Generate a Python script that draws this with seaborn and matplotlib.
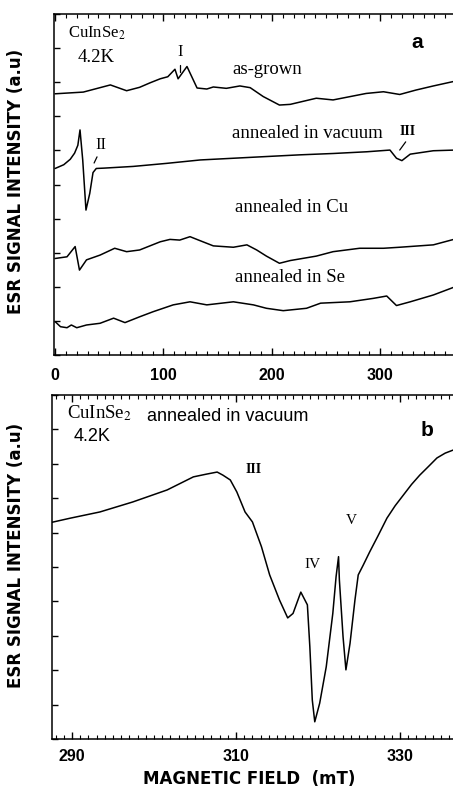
import numpy as np
import pandas as pd
import matplotlib
matplotlib.use("Agg")
import matplotlib.pyplot as plt
import seaborn as sns
from matplotlib.ticker import MultipleLocator

# ---------------- data (panel a) ----------------
asgrown_x = [0, 26, 51, 66, 78, 87.5, 97, 104, 110.6, 113.5, 121.7, 131, 140, 146, 158, 170.5, 180, 192, 207, 217, 241, 256.5, 287, 303, 318, 333, 349, 369]
asgrown_y = [7.66, 7.71, 7.92, 7.75, 7.85, 7.98, 8.10, 8.16, 8.38, 8.10, 8.46, 7.83, 7.80, 7.86, 7.82, 7.89, 7.84, 7.58, 7.33, 7.35, 7.53, 7.48, 7.67, 7.72, 7.64, 7.77, 7.89, 8.03]

vac_x = [0, 8, 14, 18, 21, 23, 25.5, 28.5, 32, 35, 38, 45, 72, 103, 134, 164.5, 195, 226, 257, 287.7, 309, 315, 320, 327.7, 349, 369]
vac_y = [5.47, 5.58, 5.74, 5.92, 6.15, 6.60, 5.72, 4.25, 4.74, 5.35, 5.47, 5.48, 5.53, 5.62, 5.72, 5.77, 5.82, 5.87, 5.91, 5.96, 6.01, 5.77, 5.70, 5.89, 5.99, 6.01]

cu_x = [0, 11, 18.5, 22.5, 29, 41.5, 55, 66, 78, 97, 106, 115, 124.5, 134, 146, 164.5, 177, 186, 195, 207, 217, 241, 256.5, 281, 303, 318, 349, 369]
cu_y = [2.83, 2.88, 3.18, 2.49, 2.79, 2.93, 3.13, 3.03, 3.08, 3.32, 3.39, 3.37, 3.47, 3.35, 3.20, 3.16, 3.23, 3.08, 2.90, 2.69, 2.77, 2.90, 3.03, 3.13, 3.13, 3.16, 3.23, 3.40]

se_x = [0, 5, 11, 15, 20, 29, 41.5, 54, 64.5, 78, 90.5, 109, 124.5, 140, 164.5, 183, 195, 210.5, 232, 245, 272, 293.5, 306, 315, 327.7, 349, 369]
se_y = [0.98, 0.83, 0.80, 0.88, 0.80, 0.88, 0.93, 1.08, 0.95, 1.12, 1.27, 1.47, 1.56, 1.47, 1.56, 1.47, 1.37, 1.30, 1.37, 1.52, 1.56, 1.66, 1.73, 1.45, 1.56, 1.76, 2.00]

# ---------------- data (panel b) ----------------
b_x = [287.56, 289.8, 293.4, 297.4, 301.6, 304.8, 306.4, 307.7, 308.4, 309.3, 310.1, 311.1, 312.0, 313.1, 314.1, 315.3, 316.3, 316.95, 317.9, 318.7, 319.0, 319.3, 319.6, 320.2, 321.0, 321.8, 322.2, 322.5, 322.6, 323.05, 323.4, 323.9, 324.5, 324.9, 325.5, 326.3, 327.3, 328.4, 329.4, 330.4, 331.4, 332.4, 333.5, 334.5, 335.5, 336.7]
b_y = [6.30, 6.42, 6.60, 6.89, 7.24, 7.62, 7.70, 7.76, 7.67, 7.53, 7.18, 6.60, 6.31, 5.59, 4.77, 4.04, 3.52, 3.65, 4.27, 3.90, 2.68, 1.13, 0.50, 1.04, 2.10, 3.65, 4.72, 5.30, 4.63, 2.97, 2.01, 2.78, 4.04, 4.77, 5.05, 5.44, 5.90, 6.42, 6.78, 7.09, 7.40, 7.67, 7.93, 8.17, 8.31, 8.42]

a_xticks = [0, 100, 200, 300]
b_xticks = [290, 310, 330]
ylabel = "ESR SIGNAL INTENSITY (a.u)"
xlabel = "MAGNETIC FIELD  (mT)"

sns.set_style("ticks")
plt.rcParams['font.family'] = ['DejaVu Sans']
plt.rcParams['mathtext.fontset'] = 'stix'
plt.rcParams['text.color'] = 'black'
plt.rcParams['axes.labelcolor'] = 'black'
plt.rcParams['xtick.color'] = 'black'
plt.rcParams['ytick.color'] = 'black'

W, H = 453, 789
fig = plt.figure(figsize=(W / 100, H / 100), dpi=100)

def px_axes(l, t, r, b):
    return fig.add_axes([l / W, 1 - b / H, (r - l) / W, (b - t) / H])

axa = px_axes(54, 14, 455, 355)
axb = px_axes(52, 395, 455, 739)

lw = 1.1
for xs, ys in [(asgrown_x, asgrown_y), (vac_x, vac_y), (cu_x, cu_y), (se_x, se_y)]:
    df = pd.DataFrame({"field": xs, "signal": ys})
    sns.lineplot(data=df, x="field", y="signal", ax=axa, color="black", lw=lw, estimator=None, sort=False)

dfb = pd.DataFrame({"field": b_x, "signal": b_y})
sns.lineplot(data=dfb, x="field", y="signal", ax=axb, color="black", lw=lw, estimator=None, sort=False)

axa.set_xlim(-1, 369)
axa.set_ylim(0, 10)
axb.set_xlim(287.56, 336.7)
axb.set_ylim(0, 10)

serif = ['Liberation Serif', 'DejaVu Serif']
sans = ['Liberation Sans', 'DejaVu Sans']

for ax, xt, minor, pad in [(axa, a_xticks, 10, 9.5), (axb, b_xticks, 1, 7)]:
    for s in ax.spines.values():
        s.set_linewidth(1.1)
        s.set_color("black")
    ax.spines['right'].set_visible(False)
    ax.set_xticks(xt)
    ax.xaxis.set_minor_locator(MultipleLocator(minor))
    ax.yaxis.set_major_locator(MultipleLocator(1))
    ax.tick_params(axis='x', which='both', direction='in', top=True, bottom=True)
    ax.tick_params(axis='x', which='major', length=5, width=1, pad=pad)
    ax.tick_params(axis='x', which='minor', length=3, width=0.8)
    ax.tick_params(axis='y', which='major', direction='in', length=4, width=1, left=True, labelleft=False)
    for lab in ax.get_xticklabels():
        lab.set_fontweight('bold')
        lab.set_fontsize(11.5)
        lab.set_family(sans)
    ax.set_xlabel("")
    ax.set_ylabel("")

axa.set_ylabel(ylabel, fontsize=12, fontweight='bold')
axa.yaxis.set_label_coords(-0.072, 0.51)
axb.set_ylabel(ylabel, fontsize=12, fontweight='bold')
axb.yaxis.set_label_coords(-0.067, 0.535)
axb.set_xlabel(xlabel, fontsize=12, fontweight='bold')
axb.xaxis.set_label_coords(0.489, -0.090)

# panel a annotations
axa.text(12, 9.44, "CuInSe$_2$", family=serif, fontsize=12, ha='left', va='center')
axa.text(21, 8.71, "4.2K", family=serif, fontsize=13.5, ha='left', va='center')
axa.text(115, 8.90, "I", family=serif, fontsize=12, ha='center', va='center')
axa.plot([115, 115], [8.50, 8.30], color='black', lw=0.9)
axa.text(164, 8.36, "as-grown", family=serif, fontsize=13.5, ha='left', va='center')
axa.text(163, 6.51, "annealed in vacuum", family=serif, fontsize=13.5, ha='left', va='center')
axa.text(42, 6.15, "II", family=serif, fontsize=12, ha='center', va='center')
axa.plot([36, 38.7], [5.63, 5.81], color='black', lw=0.9)
axa.text(325, 6.54, "III", family=serif, fontsize=10, ha='center', va='center', weight='bold')
axa.plot([318, 323.5], [6.01, 6.25], color='black', lw=0.9)
axa.text(166, 4.34, "annealed in Cu", family=serif, fontsize=13.5, ha='left', va='center')
axa.text(166, 2.26, "annealed in Se", family=serif, fontsize=13.5, ha='left', va='center')
axa.text(334, 9.15, "a", family=sans, fontsize=15, weight='bold', ha='center', va='center')

# panel b annotations
axb.text(289.4, 9.48, "CuInSe$_2$", family=serif, fontsize=13.5, ha='left', va='center')
axb.text(299.1, 9.38, "annealed in vacuum", family=sans, fontsize=13, ha='left', va='center')
axb.text(290.2, 8.78, "4.2K", family=sans, fontsize=13, ha='left', va='center')
axb.text(333.3, 8.98, "b", family=sans, fontsize=15, weight='bold', ha='center', va='center')
axb.text(312.2, 7.83, "III", family=serif, fontsize=10, weight='bold', ha='center', va='center')
axb.text(319.3, 5.06, "IV", family=serif, fontsize=11, ha='center', va='center')
axb.text(324.1, 6.34, "V", family=serif, fontsize=11, ha='center', va='center')

fig.savefig("out.png", dpi=100)
